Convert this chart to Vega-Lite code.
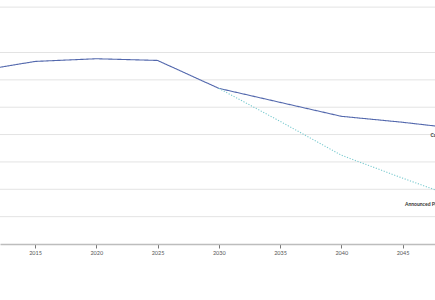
{
  "$schema": "https://vega.github.io/schema/vega-lite/v6.json",
  "width": 435,
  "height": 238,
  "autosize": {"type": "none"},
  "padding": {"left": 0, "right": 0, "top": 6, "bottom": 56},
  "background": "white",
  "config": {"view": {"stroke": null}, "font": "Lato"},
  "datasets": {
    "series": [
      {"year": 2010, "value": 31.5, "scenario": "Current Policies"},
      {"year": 2015, "value": 33.37, "scenario": "Current Policies"},
      {"year": 2020, "value": 33.86, "scenario": "Current Policies"},
      {"year": 2025, "value": 33.55, "scenario": "Current Policies"},
      {"year": 2030, "value": 28.45, "scenario": "Current Policies"},
      {"year": 2035, "value": 25.89, "scenario": "Current Policies"},
      {"year": 2040, "value": 23.34, "scenario": "Current Policies"},
      {"year": 2045, "value": 22.25, "scenario": "Current Policies"},
      {"year": 2050, "value": 20.97, "scenario": "Current Policies"},
      {"year": 2030, "value": 28.45, "scenario": "Announced Pledges"},
      {"year": 2035, "value": 22.43, "scenario": "Announced Pledges"},
      {"year": 2040, "value": 16.23, "scenario": "Announced Pledges"},
      {"year": 2045, "value": 12.04, "scenario": "Announced Pledges"},
      {"year": 2050, "value": 8.02, "scenario": "Announced Pledges"}
    ],
    "labels": [
      {"year": 2047.29, "value": 20.0, "label": "Current Policies"},
      {"year": 2045.2, "value": 7.3, "label": "Announced Pledges"}
    ],
    "grid": [
      {"value": 5}, {"value": 10}, {"value": 15}, {"value": 20},
      {"value": 25}, {"value": 30}, {"value": 35}, {"value": 43.3}
    ]
  },
  "layer": [
    {
      "data": {"name": "grid"},
      "mark": {"type": "rule", "color": "#e3e3e3", "strokeWidth": 1},
      "encoding": {
        "y": {
          "field": "value", "type": "quantitative",
          "scale": {"domain": [0, 43.5], "nice": false},
          "axis": null
        }
      }
    },
    {
      "data": {"name": "series"},
      "mark": {"type": "line", "clip": true, "strokeWidth": 1.1},
      "encoding": {
        "x": {
          "field": "year", "type": "quantitative",
          "scale": {"domain": [2012.14, 2047.65], "nice": false, "zero": false},
          "axis": {
            "title": null, "values": [2015, 2020, 2025, 2030, 2035, 2040, 2045],
            "format": "d", "grid": false,
            "domainColor": "#bdbdbd", "domainWidth": 1.5,
            "tickColor": "#555555", "tickSize": 4, "tickWidth": 0.8,
            "labelFontSize": 5.5, "labelColor": "#555555", "labelPadding": 2
          }
        },
        "y": {
          "field": "value", "type": "quantitative",
          "axis": null
        },
        "color": {
          "field": "scenario", "type": "nominal", "legend": null,
          "scale": {"domain": ["Current Policies", "Announced Pledges"], "range": ["#5368ad", "#7ccbd0"]}
        },
        "strokeDash": {
          "field": "scenario", "type": "nominal", "legend": null,
          "scale": {"domain": ["Current Policies", "Announced Pledges"], "range": [[1, 0], [1.2, 1.6]]}
        }
      }
    },
    {
      "data": {"name": "labels"},
      "mark": {"type": "text", "align": "left", "baseline": "middle", "fontSize": 5, "fontWeight": "bold", "color": "#333333", "clip": false},
      "encoding": {
        "x": {"field": "year", "type": "quantitative"},
        "y": {"field": "value", "type": "quantitative", "axis": null},
        "text": {"field": "label"}
      }
    }
  ]
}
